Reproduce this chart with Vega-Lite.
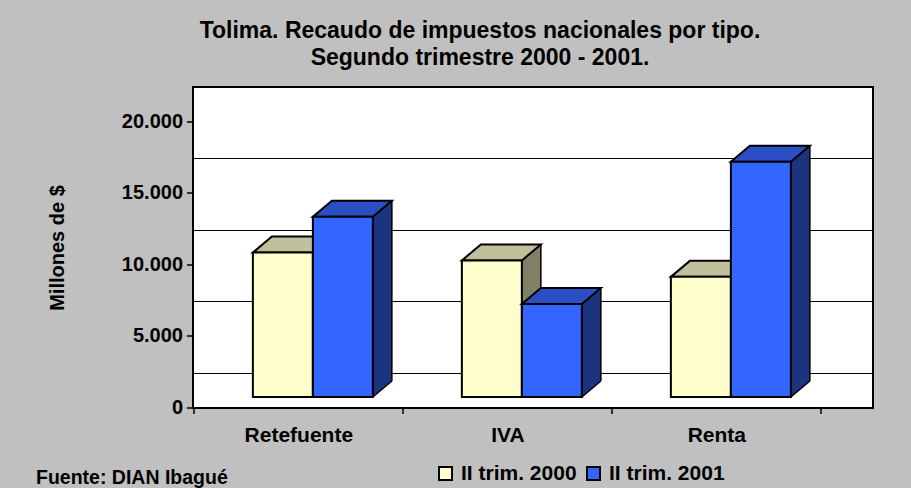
{
  "$schema": "https://vega.github.io/schema/vega-lite/v6.json",
  "width": 680,
  "height": 321,
  "autosize": {"type": "none"},
  "padding": {"left": 193, "top": 87, "right": 38, "bottom": 80},
  "background": "#c0c0c0",
  "config": {
    "font": "Liberation Sans",
    "view": {"fill": "#ffffff", "stroke": "#000000", "strokeWidth": 2},
    "axis": {
      "labelFont": "Liberation Sans", "labelFontWeight": "bold", "labelColor": "#000000",
      "titleFont": "Liberation Sans", "titleFontWeight": "bold", "titleColor": "#000000",
      "tickColor": "#000000", "domainColor": "#000000", "gridColor": "#000000", "gridOpacity": 1
    },
    "legend": {
      "orient": "none", "legendX": 242, "legendY": 376, "direction": "horizontal",
      "symbolType": "square", "symbolSize": 169, "symbolStrokeColor": "#000000", "symbolStrokeWidth": 2,
      "symbolOpacity": 1, "labelFont": "Liberation Sans", "labelFontWeight": "bold", "labelFontSize": 21,
      "labelColor": "#000000", "columnPadding": 6, "labelOffset": 5, "labelLimit": 300
    }
  },
  "title": {
    "text": ["Tolima. Recaudo de impuestos nacionales por tipo.", "Segundo trimestre 2000 - 2001."],
    "font": "Liberation Sans", "fontSize": 23, "fontWeight": "bold", "color": "#000000",
    "anchor": "middle", "dx": -53, "offset": 7, "lineHeight": 27
  },
  "data": {
    "values": [
      {"tipo": "Retefuente", "serie": "II trim. 2000", "valor": 10100},
      {"tipo": "Retefuente", "serie": "II trim. 2001", "valor": 12600},
      {"tipo": "IVA", "serie": "II trim. 2000", "valor": 9550},
      {"tipo": "IVA", "serie": "II trim. 2001", "valor": 6500},
      {"tipo": "Renta", "serie": "II trim. 2000", "valor": 8400},
      {"tipo": "Renta", "serie": "II trim. 2001", "valor": 16450}
    ]
  },
  "encoding": {
    "x": {
      "field": "tipo", "type": "nominal", "sort": ["Retefuente", "IVA", "Renta"],
      "scale": {"paddingInner": 0, "paddingOuter": 0.1268, "align": 0.29},
      "axis": {
        "title": "Fuente: DIAN Ibagué", "titleFontSize": 19.5, "titleX": -143, "titleY": 76,
        "titleAlign": "left", "titleAnchor": "start", "titleBaseline": "alphabetic",
        "labelAngle": 0, "labelFontSize": 21, "labelPadding": 11, "tickSize": 6, "tickWidth": 1.5,
        "tickBand": "extent", "translate": -14, "offset": 14, "domain": false, "grid": false
      }
    }
  },
  "layer": [
    {
      "encoding": {
        "y": {
          "field": "valor", "type": "quantitative",
          "scale": {"domain": [-2450, 20000], "nice": false, "zero": false},
          "axis": {
            "orient": "left", "grid": true, "labels": false, "ticks": false, "domain": false,
            "title": null, "values": [0, 5000, 10000, 15000, 20000], "gridWidth": 1
          }
        }
      },
      "layer": [
        {
          "transform": [{"filter": "datum.serie === 'II trim. 2000'"}],
          "mark": {"type": "bar", "width": 19, "xOffset": 9.5, "yOffset": 8, "y2Offset": 24, "fill": "#808064", "strokeWidth": 0},
          "encoding": {"y2": {"datum": 0}}
        },
        {
          "transform": [{"filter": "datum.serie === 'II trim. 2000'"}],
          "mark": {"type": "point", "shape": "M0,0L19,-16L19.6,-16L19.6,0.6L0,0.6Z", "size": 4, "filled": true, "fill": "#ffffff", "opacity": 1, "strokeWidth": 0, "xOffset": 0, "yOffset": 24},
          "encoding": {"y": {"datum": 0}}
        },
        {
          "transform": [{"filter": "datum.serie === 'II trim. 2000'"}],
          "mark": {"type": "point", "shape": "M0,0L19,-16", "size": 4, "filled": false, "stroke": "#000000", "strokeWidth": 1.5, "opacity": 1, "xOffset": 0, "yOffset": 24},
          "encoding": {"y": {"datum": 0}}
        },
        {
          "transform": [{"filter": "datum.serie === 'II trim. 2000'"}],
          "mark": {"type": "rule", "xOffset": 19, "yOffset": 8, "y2Offset": 8, "stroke": "#000000", "strokeWidth": 1.5},
          "encoding": {"y2": {"datum": 0}}
        },
        {
          "transform": [{"filter": "datum.serie === 'II trim. 2000'"}],
          "mark": {"type": "point", "shape": "M0,0L60,0L79,-16L19,-16Z", "size": 4, "filled": true, "fill": "#c0c09c", "stroke": "#000000", "strokeWidth": 2, "opacity": 1, "xOffset": -60, "yOffset": 24}
        },
        {
          "transform": [{"filter": "datum.serie === 'II trim. 2000'"}],
          "mark": {"type": "bar", "width": 60, "xOffset": -30, "yOffset": 24, "y2Offset": 24, "stroke": "#000000", "strokeWidth": 2, "opacity": 1},
          "encoding": {
            "y2": {"datum": 0},
            "color": {"field": "serie", "type": "nominal", "scale": {"domain": ["II trim. 2000", "II trim. 2001"], "range": ["#ffffcc", "#3366ff"]}, "legend": {"title": null}}
          }
        },
        {
          "transform": [{"filter": "datum.serie === 'II trim. 2001'"}],
          "mark": {"type": "bar", "width": 19, "xOffset": 69.5, "yOffset": 8, "y2Offset": 24, "fill": "#1c3480", "strokeWidth": 0},
          "encoding": {"y2": {"datum": 0}}
        },
        {
          "transform": [{"filter": "datum.serie === 'II trim. 2001'"}],
          "mark": {"type": "point", "shape": "M0,0L19,-16L19.6,-16L19.6,0.6L0,0.6Z", "size": 4, "filled": true, "fill": "#ffffff", "opacity": 1, "strokeWidth": 0, "xOffset": 60, "yOffset": 24},
          "encoding": {"y": {"datum": 0}}
        },
        {
          "transform": [{"filter": "datum.serie === 'II trim. 2001'"}],
          "mark": {"type": "point", "shape": "M0,0L19,-16", "size": 4, "filled": false, "stroke": "#000000", "strokeWidth": 1.5, "opacity": 1, "xOffset": 60, "yOffset": 24},
          "encoding": {"y": {"datum": 0}}
        },
        {
          "transform": [{"filter": "datum.serie === 'II trim. 2001'"}],
          "mark": {"type": "rule", "xOffset": 79, "yOffset": 8, "y2Offset": 8, "stroke": "#000000", "strokeWidth": 1.5},
          "encoding": {"y2": {"datum": 0}}
        },
        {
          "transform": [{"filter": "datum.serie === 'II trim. 2001'"}],
          "mark": {"type": "point", "shape": "M0,0L60,0L79,-16L19,-16Z", "size": 4, "filled": true, "fill": "#2a4fc4", "stroke": "#000000", "strokeWidth": 2, "opacity": 1, "xOffset": 0, "yOffset": 24}
        }
      ]
    },
    {
      "transform": [{"filter": "datum.serie === 'II trim. 2001'"}],
      "mark": {"type": "bar", "width": 60, "xOffset": 30, "yOffset": 24, "y2Offset": 24, "stroke": "#000000", "strokeWidth": 2, "opacity": 1},
      "encoding": {
        "y": {
          "field": "valor", "type": "quantitative",
          "scale": {"domain": [-2450, 20000], "nice": false, "zero": false},
          "axis": {
            "orient": "left", "grid": false, "domain": false, "offset": 35, "translate": 35,
            "values": [0, 5000, 10000, 15000, 20000],
            "labelExpr": "replace(format(datum.value, ','), ',', '.')",
            "labelFontSize": 20, "labelPadding": 4, "tickSize": 6, "tickWidth": 1.5,
            "title": "Millones de $", "titleFontSize": 20, "titleX": -135, "titleY": 126,
            "titleAngle": 270, "titleAlign": "center", "titleBaseline": "middle"
          }
        },
        "y2": {"datum": 0},
        "color": {"field": "serie", "type": "nominal", "scale": {"domain": ["II trim. 2000", "II trim. 2001"], "range": ["#ffffcc", "#3366ff"]}, "legend": {"title": null}}
      }
    }
  ],
  "resolve": {"axis": {"y": "independent"}}
}
